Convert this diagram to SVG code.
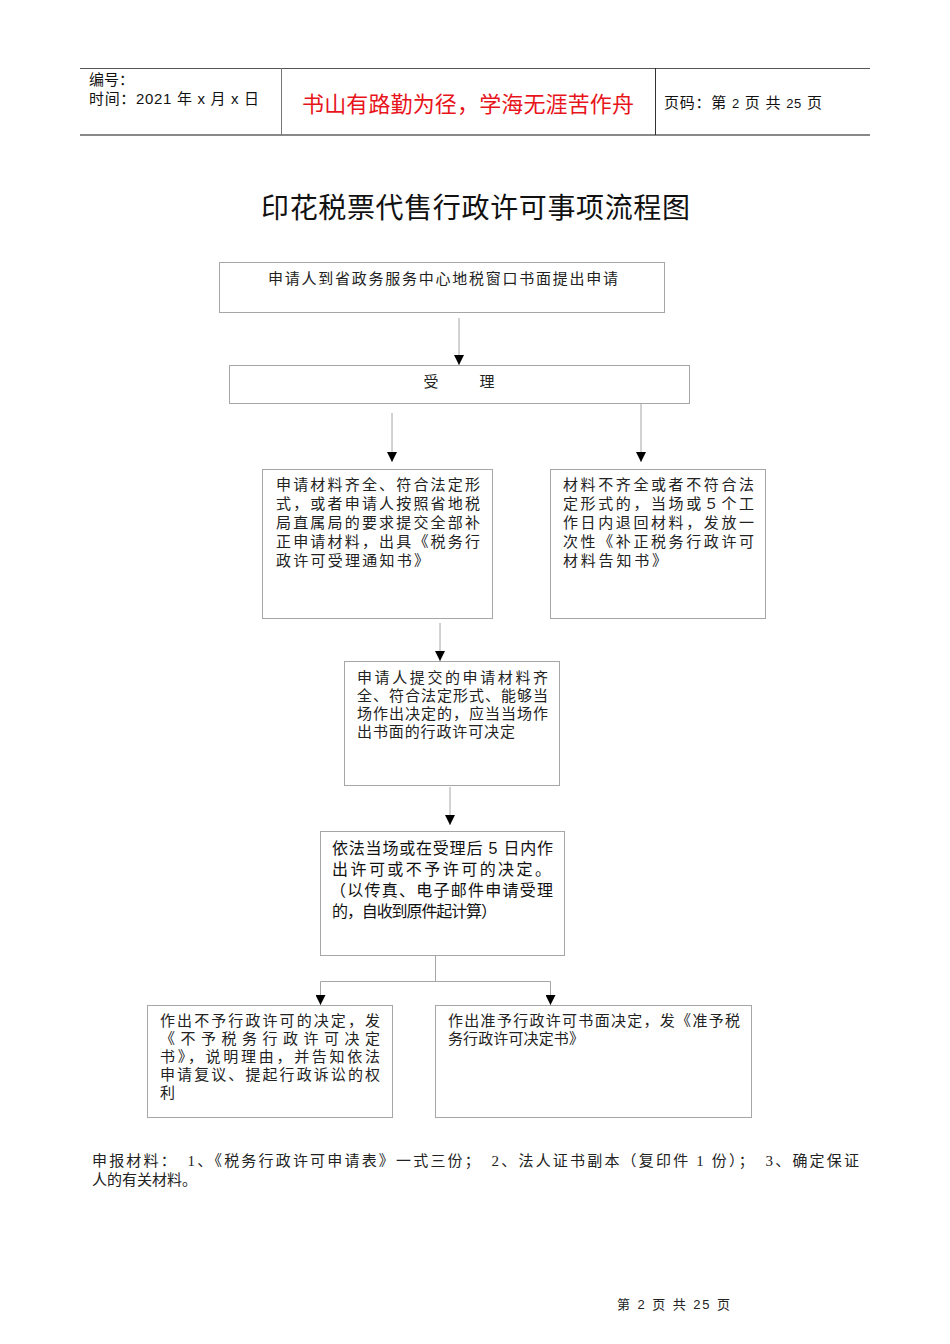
<svg xmlns="http://www.w3.org/2000/svg" width="950" height="1344" viewBox="0 0 950 1344">
<style>
.box{fill:#fff;stroke:#a6a6a6;stroke-width:1}
.con{fill:none;stroke:#a6a6a6;stroke-width:1}
.t{font-family:"Liberation Serif","Noto Sans CJK SC",serif;font-size:15px;fill:#222}
.s{font-family:"Liberation Sans","Noto Sans CJK SC",sans-serif;font-size:16px;fill:#111}
.h{font-family:"Liberation Sans","Noto Sans CJK SC",sans-serif;font-size:15px;fill:#111}
</style>
<defs>
<marker id="ah" markerUnits="userSpaceOnUse" markerWidth="10" markerHeight="10" refX="10" refY="5" orient="auto">
<path d="M0,0 L10,5 L0,10 z" fill="#000"/>
</marker>
</defs>
<rect width="950" height="1344" fill="#fff"/>
<g id="header">
<line x1="80" y1="68.5" x2="870" y2="68.5" stroke="#555" stroke-width="1"/>
<line x1="80" y1="135" x2="870" y2="135" stroke="#888" stroke-width="2"/>
<line x1="281.5" y1="68" x2="281.5" y2="135" stroke="#777" stroke-width="1"/>
<line x1="655.5" y1="68" x2="655.5" y2="135" stroke="#333" stroke-width="1"/>
<text class="h" x="89" y="85">编号：</text>
<text class="h" x="89" y="104" textLength="170">时间：2021 年 x 月 x 日</text>
<text x="302" y="112" font-family="Noto Sans CJK SC,sans-serif" font-size="22" fill="#e8141b" textLength="332">书山有路勤为径，学海无涯苦作舟</text>
<text class="h" x="664" y="108" textLength="158">页码：第 <tspan font-size="13">2</tspan> 页  共 <tspan font-size="13">25</tspan> 页</text>
</g>
<text x="261" y="218" font-family="Noto Sans CJK SC,sans-serif" font-size="28" font-weight="400" fill="#111" textLength="429">印花税票代售行政许可事项流程图</text>
<g id="connectors">
<line class="con" x1="459" y1="318" x2="459" y2="365" marker-end="url(#ah)"/>
<line class="con" x1="392" y1="413" x2="392" y2="462" marker-end="url(#ah)"/>
<line class="con" x1="641" y1="404" x2="641" y2="462" marker-end="url(#ah)"/>
<line class="con" x1="440" y1="623" x2="440" y2="661" marker-end="url(#ah)"/>
<line class="con" x1="450" y1="787" x2="450" y2="825" marker-end="url(#ah)"/>
<line class="con" x1="435.5" y1="955" x2="435.5" y2="981"/>
<path class="con" d="M320.5,1004 V981.5 H550.5 V1004"/>
<line class="con" x1="320.5" y1="990" x2="320.5" y2="1005" marker-end="url(#ah)"/>
<line class="con" x1="550.5" y1="990" x2="550.5" y2="1005" marker-end="url(#ah)"/>
</g>
<g id="n1">
<rect class="box" x="219.5" y="262.5" width="445" height="50"/>
<text class="t" x="268" y="284" font-size="16" textLength="350">申请人到省政务服务中心地税窗口书面提出申请</text>
</g>
<g id="n2">
<rect class="box" x="229.5" y="365.5" width="460" height="38"/>
<text class="t" x="431" y="387" text-anchor="middle">受</text>
<text class="t" x="487" y="387" text-anchor="middle">理</text>
</g>
<g id="n3">
<rect class="box" x="262.5" y="469.5" width="230" height="149"/>
<text class="t" x="276" y="490" textLength="204">申请材料齐全、符合法定形</text>
<text class="t" x="276" y="509" textLength="204">式，或者申请人按照省地税</text>
<text class="t" x="276" y="528" textLength="204">局直属局的要求提交全部补</text>
<text class="t" x="276" y="547" textLength="204">正申请材料，出具《税务行</text>
<text class="t" x="276" y="566" textLength="153">政许可受理通知书》</text>
</g>
<g id="n4">
<rect class="box" x="550.5" y="469.5" width="215" height="149"/>
<text class="t" x="563" y="490" textLength="191">材料不齐全或者不符合法</text>
<text class="t" x="563" y="509" textLength="191">定形式的，当场或５个工</text>
<text class="t" x="563" y="528" textLength="191">作日内退回材料，发放一</text>
<text class="t" x="563" y="547" textLength="191">次性《补正税务行政许可</text>
<text class="t" x="563" y="566" textLength="104">材料告知书》</text>
</g>
<g id="n5">
<rect class="box" x="344.5" y="661.5" width="215" height="124"/>
<text class="t" x="357" y="683" textLength="191">申请人提交的申请材料齐</text>
<text class="t" x="357" y="701" textLength="191">全、符合法定形式、能够当</text>
<text class="t" x="357" y="719" textLength="191">场作出决定的，应当当场作</text>
<text class="t" x="357" y="737" textLength="158">出书面的行政许可决定</text>
</g>
<g id="n6">
<rect class="box" x="320.5" y="831.5" width="244" height="124"/>
<text class="s" x="332" y="854" textLength="221">依法当场或在受理后 5 日内作</text>
<text class="s" x="332" y="875" textLength="219">出许可或不予许可的决定。</text>
<text class="s" x="330" y="896" textLength="223">（以传真、电子邮件申请受理</text>
<text class="s" x="332" y="917" textLength="165">的，自收到原件起计算）</text>
</g>
<g id="n7">
<rect class="box" x="147.5" y="1005.5" width="245" height="112"/>
<text class="t" x="160" y="1026" textLength="220">作出不予行政许可的决定，发</text>
<text class="t" x="160" y="1044" textLength="220">《不予税务行政许可决定</text>
<text class="t" x="160" y="1062" textLength="220">书》，说明理由，并告知依法</text>
<text class="t" x="160" y="1080" textLength="220">申请复议、提起行政诉讼的权</text>
<text class="t" x="160" y="1098">利</text>
</g>
<g id="n8">
<rect class="box" x="435.5" y="1005.5" width="316" height="112"/>
<text class="t" x="448" y="1026" textLength="292">作出准予行政许可书面决定，发《准予税</text>
<text class="t" x="448" y="1044" textLength="136">务行政许可决定书》</text>
</g>
<g id="notes">
<text class="t" x="92" y="1166" textLength="767">申报材料：　1、《税务行政许可申请表》一式三份；　2、法人证书副本（复印件 1 份）；　3、确定保证</text>
<text class="t" x="92" y="1185">人的有关材料。</text>
<text x="617" y="1309" font-family="Liberation Sans,Noto Sans CJK SC,sans-serif" font-size="13" fill="#222" textLength="113">第 2 页 共 25 页</text>
</g>
</svg>
